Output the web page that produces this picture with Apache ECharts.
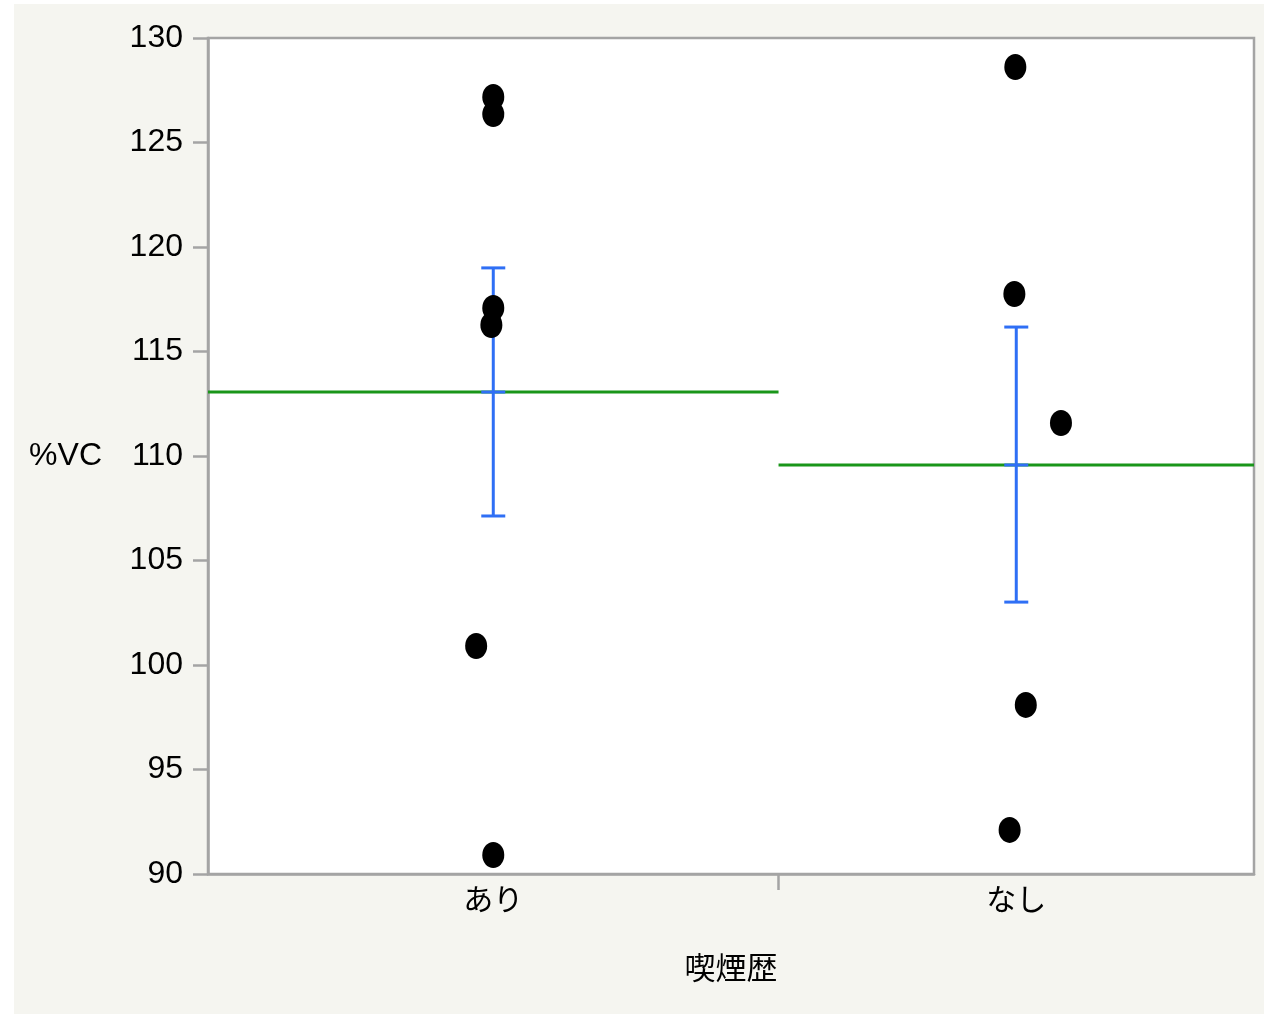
<!DOCTYPE html>
<html>
<head>
<meta charset="utf-8">
<script src="https://cdn.jsdelivr.net/npm/echarts@6/dist/echarts.min.js"></script>
<style>
  html, body { margin: 0; padding: 0; background: #ffffff; }
  #chart { position: absolute; left: 14px; top: 4px; width: 1250px; height: 1010px; }
</style>
</head>
<body>
<div id="chart"></div>
<script>
// Groups (smoking history) and their sample sizes; each group's band width is proportional to its count
const groups = ['あり', 'なし'];
const groupCounts = [6, 5];

// Individual %VC observations: [jittered x position, value]
const pointsAri = [[3.00, 127.18], [3.00, 126.36], [3.00, 117.08], [2.98, 116.27], [2.82, 100.91], [3.00, 90.91]];
const pointsNashi = [[8.49, 128.61], [8.48, 117.75], [8.97, 111.58], [8.60, 98.09], [8.43, 92.11]];

// Group means and mean ± standard error bounds
const groupMeans = [113.06, 109.57];
const errLow = [107.13, 103.01];
const errHigh = [119.00, 116.17];

// Y-axis ticks
const yTicks = [90, 95, 100, 105, 110, 115, 120, 125, 130];

// band boundaries derived from counts
const bandStart = [], bandEnd = [], bandCenter = [];
let acc = 0;
groupCounts.forEach(n => {
  bandStart.push(acc);
  bandCenter.push(acc + n / 2);
  acc += n;
  bandEnd.push(acc);
});
const total = acc;

const axisGray = '#a4a4a4';
const textFont = "'Liberation Sans', 'Noto Sans CJK JP', sans-serif";
const jpFont = "'Noto Sans CJK JP', 'Liberation Sans', sans-serif";

const chart = echarts.init(document.getElementById('chart'));

const meanLines = groups.map((g, i) => ({
  type: 'line',
  data: [[bandStart[i], groupMeans[i]], [bandEnd[i], groupMeans[i]]],
  symbol: 'none',
  lineStyle: { color: '#1a961a', width: 3 },
  silent: true,
  z: 3
}));

const errData = groups.map((g, i) => [bandCenter[i], errLow[i], groupMeans[i], errHigh[i]]);

chart.setOption({
  backgroundColor: '#f5f5f0',
  animation: false,
  grid: {
    left: 194, top: 34, right: 10, bottom: 140,
    outerBoundsMode: 'none',
    containLabel: false,
    show: true, backgroundColor: '#ffffff',
    borderColor: axisGray, borderWidth: 2.5
  },
  xAxis: {
    type: 'value',
    min: 0, max: total,
    name: '喫煙歴',
    nameLocation: 'middle',
    nameGap: 78,
    nameTextStyle: { fontFamily: jpFont, fontSize: 31, color: '#000' },
    axisLine: { show: true, lineStyle: { color: axisGray, width: 2.5 } },
    axisTick: { show: true, length: 16, lineStyle: { color: axisGray, width: 2.5 }, customValues: bandEnd.slice(0, -1) },
    axisLabel: {
      customValues: bandCenter,
      formatter: v => {
        const idx = bandCenter.findIndex(c => Math.abs(c - v) < 1e-6);
        return idx >= 0 ? groups[idx] : '';
      },
      fontFamily: jpFont, fontSize: 30, color: '#000', margin: 10
    },
    splitLine: { show: false }
  },
  yAxis: {
    type: 'value',
    min: 90, max: 130, interval: 5,
    name: '%VC',
    nameLocation: 'middle',
    nameRotate: 0,
    nameGap: 106,
    nameTextStyle: { fontFamily: textFont, fontSize: 32, color: '#000' },
    axisLine: { show: true, lineStyle: { color: axisGray, width: 2.5 } },
    axisTick: { show: true, length: 15, lineStyle: { color: axisGray, width: 2.5 } },
    axisLabel: {
      fontFamily: textFont, fontSize: 32, color: '#000', margin: 25,
      formatter: v => (yTicks.includes(v) ? String(v) : '')
    },
    splitLine: { show: false }
  },
  series: [
    ...meanLines,
    {
      type: 'custom',
      data: errData,
      z: 4,
      silent: true,
      renderItem: (params, api) => {
        const x = api.value(0);
        const top = api.coord([x, api.value(3)]);
        const mid = api.coord([x, api.value(2)]);
        const bot = api.coord([x, api.value(1)]);
        const hw = 12;
        const style = { stroke: '#2f6ff5', lineWidth: 3, fill: null };
        return {
          type: 'group',
          children: [
            { type: 'line', shape: { x1: top[0], y1: top[1], x2: bot[0], y2: bot[1] }, style },
            { type: 'line', shape: { x1: top[0] - hw, y1: top[1], x2: top[0] + hw, y2: top[1] }, style },
            { type: 'line', shape: { x1: mid[0] - hw, y1: mid[1], x2: mid[0] + hw, y2: mid[1] }, style },
            { type: 'line', shape: { x1: bot[0] - hw, y1: bot[1], x2: bot[0] + hw, y2: bot[1] }, style }
          ]
        };
      }
    },
    {
      type: 'scatter',
      data: pointsAri.concat(pointsNashi),
      symbol: 'circle',
      symbolSize: [22, 26],
      itemStyle: { color: '#000000', opacity: 1 },
      z: 5
    }
  ]
});
</script>
</body>
</html>
